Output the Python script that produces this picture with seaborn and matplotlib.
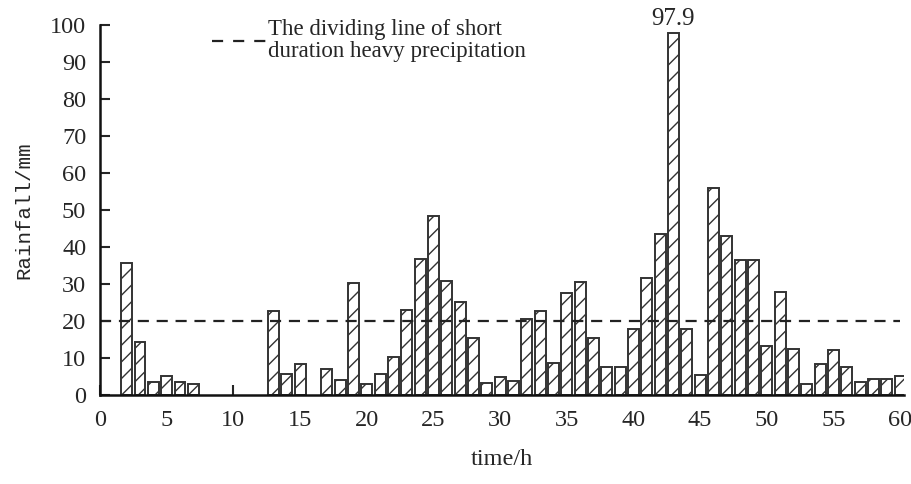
import numpy as np
import pandas as pd
import matplotlib
matplotlib.use('Agg')
import matplotlib.pyplot as plt
import seaborn as sns
from matplotlib.lines import Line2D

# hourly rainfall
hours = [2, 3, 4, 5, 6, 7,
         13, 14, 15,
         17, 18, 19, 20, 21, 22, 23, 24, 25, 26, 27, 28, 29, 30,
         31, 32, 33, 34, 35, 36, 37, 38, 39, 40, 41, 42, 43, 44, 45,
         46, 47, 48, 49, 50, 51, 52, 53, 54, 55, 56, 57, 58, 59, 60]
rain = [35.8, 14.4, 3.6, 5.2, 3.6, 3.0,
        22.7, 5.6, 8.3,
        7.0, 4.1, 30.2, 3.0, 5.8, 10.4, 23.0, 36.8, 48.5, 30.7, 25.0, 15.3, 3.2, 4.9,
        3.8, 20.5, 22.7, 8.6, 27.5, 30.5, 15.3, 7.6, 7.6, 17.8, 31.7, 43.5, 97.9, 17.8, 5.4,
        55.9, 43.0, 36.5, 36.5, 13.2, 27.9, 12.4, 2.9, 8.3, 12.2, 7.6, 3.4, 4.2, 4.3, 5.2]
threshold = 20
peak_label = '97.9'

df = pd.DataFrame({'hour': hours, 'rain': rain})

sns.set_style('ticks')
plt.rcParams['font.family'] = ['Liberation Serif', 'DejaVu Serif']
plt.rcParams['hatch.linewidth'] = 1.0
plt.rcParams['hatch.color'] = '#333333'

fig = plt.figure(figsize=(9.11, 4.84), dpi=100)
ax = fig.add_axes([0.1098, 0.1839, 0.8826, 0.7645])

sns.barplot(data=df, x='hour', y='rain', native_scale=True, width=0.82,
            color='white', edgecolor='#333333', linewidth=1.4, ax=ax)
for p in ax.patches:
    p.set_hatch('//')
    p.set_facecolor('white')

ax.plot([0, 60], [threshold, threshold], color='#222222', lw=1.6,
        linestyle=(0, (5, 3.5)))

# label above the tallest bar
i = int(np.argmax(rain))
ax.text(hours[i], rain[i] + 0.8, peak_label, ha='center', va='bottom', fontsize=18)

ax.set_xlim(0, 60.3)
ax.set_ylim(0, 100)
ax.set_xticks(range(0, 61, 5))
ax.set_yticks(range(0, 101, 10))
ax.tick_params(direction='in', length=7, width=1.5, labelsize=17.5)
ax.tick_params(axis='y', pad=10)
ax.tick_params(axis='x', pad=11)
for s in ['top', 'right']:
    ax.spines[s].set_visible(False)
for s in ['left', 'bottom']:
    ax.spines[s].set_linewidth(1.8)
    ax.spines[s].set_color('#111111')

ax.set_xlabel('time/h', fontsize=17.5, labelpad=13)
ax.set_ylabel('Rainfall/mm', fontsize=15, family='Liberation Mono', labelpad=12)

handle = Line2D([], [], color='#222222', lw=1.6, linestyle=(0, (5, 4.5)))
leg = ax.legend([handle], ['The dividing line of short\nduration heavy precipitation'],
                loc='upper left', bbox_to_anchor=(0.139, 1.015), frameon=False,
                fontsize=16.5, handlelength=2.4, handletextpad=0.05,
                borderaxespad=0, borderpad=0)
for t in leg.get_texts():
    t.set_linespacing(1.05)

fig.savefig('out.png', dpi=100)
